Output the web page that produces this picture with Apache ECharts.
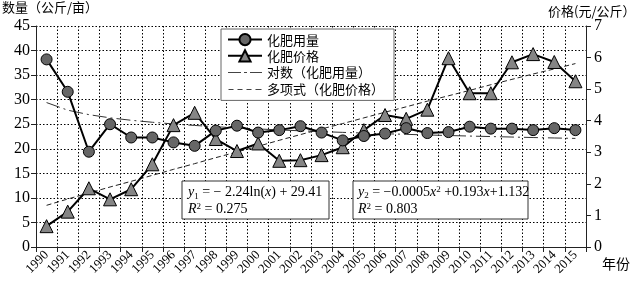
<!DOCTYPE html>
<html>
<head>
<meta charset="utf-8">
<script src="https://cdn.jsdelivr.net/npm/echarts@6/dist/echarts.min.js"></script>
<style>
html,body{margin:0;padding:0;background:#fff;}
#chart{width:641px;height:292px;}
</style>
</head>
<body>
<div id="chart"></div>
<script>
var years = ['1990','1991','1992','1993','1994','1995','1996','1997','1998','1999','2000','2001','2002','2003','2004','2005','2006','2007','2008','2009','2010','2011','2012','2013','2014','2015'];
var fertUse = [38.2,31.6,19.4,25.0,22.3,22.3,21.3,20.6,23.7,24.7,23.3,23.8,24.6,23.3,21.7,22.6,23.1,24.2,23.2,23.4,24.5,24.1,24.1,23.8,24.2,23.8];
var fertPrice = [0.66,1.12,1.86,1.51,1.83,2.62,3.86,4.25,3.42,3.04,3.28,2.73,2.75,2.91,3.16,3.70,4.18,4.06,4.35,5.98,4.87,4.87,5.85,6.11,5.86,5.25];
var logTrend = [29.41,27.86,26.95,26.30,25.80,25.40,25.05,24.75,24.49,24.25,24.04,23.84,23.66,23.50,23.34,23.20,23.06,22.94,22.81,22.70,22.59,22.49,22.39,22.29,22.20,22.11];
var polyTrend = [1.32,1.52,1.71,1.90,2.08,2.27,2.46,2.64,2.83,3.01,3.19,3.38,3.56,3.74,3.91,4.09,4.27,4.44,4.62,4.79,4.96,5.14,5.31,5.48,5.64,5.81];
var leftTicks = [0,45,5];
var rightTicks = [0,7,1];
var names = ['化肥用量','化肥价格','对数（化肥用量）','多项式（化肥价格）'];

var serif = '"Liberation Serif","DejaVu Serif",serif';
var cjk = '"Noto Sans CJK SC","Liberation Serif",sans-serif';
var chart = echarts.init(document.getElementById('chart'), null, {renderer:'canvas'});
var dotted = {color:'#000', width:1, type:[1.5,2]};
chart.setOption({
  animation:false,
  backgroundColor:'#fff',
  grid:{left:36,right:55,top:26,bottom:45,containLabel:false},
  legend:{
    data:[
      {name:names[0]},
      {name:names[1]},
      {name:names[2],icon:'path://M0,0h1v0h-1z M0,6.5h13v1.2H0z M16,6.5h3v1.2h-3z M22,6.5h12v1.2h-12z M0,14h1v0h-1z',itemStyle:{color:'#444'}},
      {name:names[3],icon:'path://M0,0h1v0h-1z M0,6.5h5v1.2H0z M9,6.5h5v1.2H9z M18,6.5h5v1.2h-5z M27,6.5h6v1.2h-6z M0,14h1v0h-1z',itemStyle:{color:'#444'}}
    ],
    orient:'vertical',
    left:221, top:29,
    backgroundColor:'#fff',
    borderColor:'#666', borderWidth:1,
    padding:[4,10,4,6],
    itemGap:3,
    itemWidth:34, itemHeight:14,
    textStyle:{fontFamily:cjk,fontSize:13,color:'#000'}
  },
  xAxis:{
    type:'category', data:years, boundaryGap:true,
    axisLine:{lineStyle:{color:'#222',width:1}},
    axisTick:{show:true,length:5,inside:false,lineStyle:{color:'#222'}},
    axisLabel:{rotate:45,fontFamily:serif,fontSize:13,color:'#000',margin:6,interval:0},
    splitLine:{show:true,lineStyle:dotted}
  },
  yAxis:[{
    type:'value', min:leftTicks[0], max:leftTicks[1], interval:leftTicks[2],
    axisLine:{show:true,lineStyle:{color:'#222'}},
    axisTick:{show:true,length:5,lineStyle:{color:'#222'}},
    axisLabel:{fontFamily:serif,fontSize:16,color:'#000',margin:6},
    splitLine:{show:true,lineStyle:dotted}
  },{
    type:'value', min:rightTicks[0], max:rightTicks[1], interval:rightTicks[2],
    position:'right',
    axisLine:{show:true,lineStyle:{color:'#222'}},
    axisTick:{show:true,length:5,lineStyle:{color:'#222'}},
    axisLabel:{fontFamily:serif,fontSize:16,color:'#000',margin:8},
    splitLine:{show:false}
  }],
  series:[
    {name:names[2],type:'line',yAxisIndex:0,data:logTrend,symbol:'none',smooth:false,
     itemStyle:{color:'#444'},
     lineStyle:{color:'#333',width:1,type:[14,4,2,4]},z:2},
    {name:names[3],type:'line',yAxisIndex:1,data:polyTrend,symbol:'none',
     itemStyle:{color:'#444'},
     lineStyle:{color:'#222',width:1,type:[5,3]},z:2},
    {name:names[1],type:'line',yAxisIndex:1,data:fertPrice,symbol:'triangle',symbolSize:13,
     lineStyle:{color:'#000',width:2},itemStyle:{color:'#858585',borderColor:'#000',borderWidth:1},z:3},
    {name:names[0],type:'line',yAxisIndex:0,data:fertUse,symbol:'circle',symbolSize:11,
     lineStyle:{color:'#000',width:2},itemStyle:{color:'#666',borderColor:'#000',borderWidth:1},z:4}
  ],
  graphic:[
    {type:'text',left:2,top:1,style:{text:'数量（公斤/亩）',font:'13px '+cjk,fill:'#000'}},
    {type:'text',left:548,top:5,style:{text:'价格(元/公斤）',font:'13px '+cjk,fill:'#000'}},
    {type:'text',left:602,top:257,style:{text:'年份',font:'14px '+cjk,fill:'#000'}},
    {type:'rect',shape:{x:182,y:181,width:147,height:38},style:{fill:'#fff',stroke:'#333',lineWidth:1},z:100},
    {type:'text',x:188,y:184,z:101,style:{
      text:'{i|y}{s|1}{n| = − 2.24ln(}{i|x}{n|) + 29.41}\n{i|R}{p|2}{n| = 0.275}',
      rich:{i:{fontFamily:serif,fontStyle:'italic',fontSize:14,lineHeight:17},
            n:{fontFamily:serif,fontSize:14,lineHeight:17},
            s:{fontFamily:serif,fontSize:9,lineHeight:17,verticalAlign:'bottom',padding:[6,0,0,0]},
            p:{fontFamily:serif,fontSize:9,lineHeight:17,padding:[0,0,6,0]}},
      fill:'#000'}},
    {type:'rect',shape:{x:353,y:181,width:175,height:38},style:{fill:'#fff',stroke:'#333',lineWidth:1},z:100},
    {type:'text',x:358,y:184,z:101,style:{
      text:'{i|y}{s|2}{n| = −0.0005}{i|x}{p|2}{n| +0.193}{i|x}{n|+1.132}\n{i|R}{p|2}{n| = 0.803}',
      rich:{i:{fontFamily:serif,fontStyle:'italic',fontSize:14,lineHeight:17},
            n:{fontFamily:serif,fontSize:14,lineHeight:17},
            s:{fontFamily:serif,fontSize:9,lineHeight:17,padding:[6,0,0,0]},
            p:{fontFamily:serif,fontSize:9,lineHeight:17,padding:[0,0,6,0]}},
      fill:'#000'}}
  ]
});
</script>
</body>
</html>
